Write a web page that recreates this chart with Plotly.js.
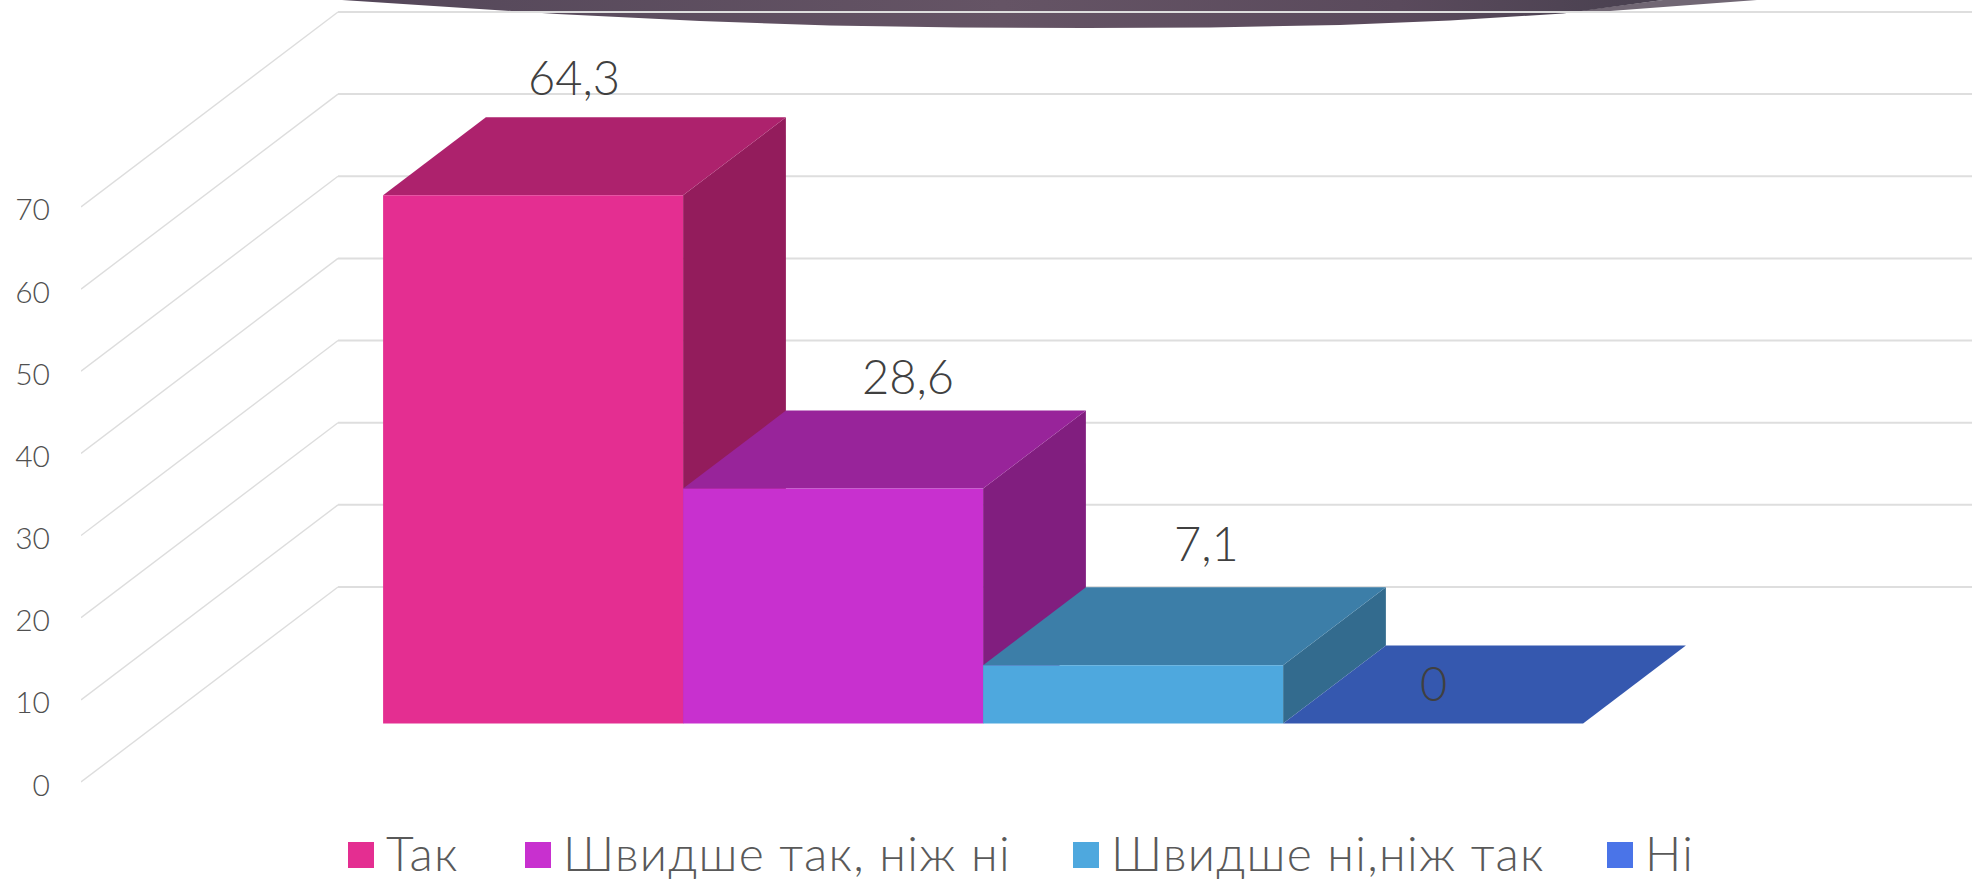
<!DOCTYPE html>
<html><head><meta charset="utf-8">
<script src="https://cdn.plot.ly/plotly-3.0.1.min.js"></script>
<style>html,body{margin:0;padding:0;background:#fff}#c{width:1972px;height:880px}</style>
</head><body><div id="c"></div>
<script>
// ---- data ----
const categories = ['Так', 'Швидше так, ніж ні', 'Швидше ні,ніж так', 'Ні'];
const values = [64.3, 28.6, 7.1, 0];
const valueLabels = ['64,3', '28,6', '7,1', '0'];
const yTicks = [0, 10, 20, 30, 40, 50, 60, 70];
// ---- styles ----
const frontColors = ['#E42E91', '#C830CF', '#4EA8DE', '#4A74E8'];
const topColors = ['#AD226D', '#98249A', '#3C7EA8', '#3558AF'];
const sideColors = ['#931C5C', '#811E7F', '#336B8E', '#2A4A96'];
const labelShiftX = [41, 75, 73, 0];
const labelLift = [118, 113, 122, 40.5];
const legendOrigins = [346, 523, 1071, 1605];
// ---- projection (oblique 3D) ----
const W = 1972, H = 880, L = 81;
const slotPx = 300, unitPx = 8.215, zeroPx = 782;
const depthX = 257 / slotPx, depthY = 195 / unitPx;
const gapWidth = 0.75, totalSlots = 5.5;
const barDepth0 = 0.30, barDepth1 = 0.70;
const xRange = [0, (W - L) / slotPx];
const yRange = [(zeroPx - H) / unitPx, zeroPx / unitPx];
const px = (x, y) => [(x - L) / slotPx, (zeroPx - y) / unitPx];
const proj = (u, v, d) => [u + d * depthX, v + d * depthY];
function poly(points, color, z) {
  const p = points.map(a => proj(a[0], a[1], a[2]));
  return {type: 'scatter', mode: 'lines', x: p.map(a => a[0]), y: p.map(a => a[1]),
    fill: 'toself', fillcolor: color, line: {width: 0, color: color},
    hoverinfo: 'skip', showlegend: false, zorder: z};
}
// wall / back grid
const diagX = [], diagY = [], backX = [], backY = [];
yTicks.forEach(t => {
  const a = proj(0, t, 0), b = proj(0, t, 1), c = proj(totalSlots, t, 1);
  diagX.push(a[0], b[0], null); diagY.push(a[1], b[1], null);
  backX.push(b[0], c[0], null); backY.push(b[1], c[1], null);
});
// decoration band at the very top (slide background shape)
const bandPxX = [342, 450, 557, 700, 830, 960, 1085, 1210, 1340, 1450, 1563, 1663, 1663, 342, 342];
const bandPxY = [0, 7, 14, 21, 25.5, 27.5, 28, 27.5, 25, 20.5, 13.5, 0, -6, -6, 0];
const band = bandPxX.map((x, i) => px(x, bandPxY[i]));
const wedgePxX = [1663, 1757, 1610, 1563, 1663];
const wedgePxY = [0, 0, 11, 13, 0];
const wedge = wedgePxX.map((x, i) => px(x, wedgePxY[i]));
const traces = [{
  type: 'scatter', mode: 'lines', x: wedge.map(a => a[0]), y: wedge.map(a => a[1]),
  fill: 'toself', fillcolor: '#716774', line: {width: 0},
  hoverinfo: 'skip', showlegend: false, zorder: 0
}, {
  type: 'scatter', mode: 'lines', x: band.map(a => a[0]), y: band.map(a => a[1]),
  fill: 'toself', line: {width: 0},
  fillgradient: {type: 'horizontal', colorscale: [[0, '#544759'], [0.5, '#655465'], [0.8, '#5A4A5C'], [1, '#48404F']]},
  hoverinfo: 'skip', showlegend: false, zorder: 0
}, {
  type: 'scatter', mode: 'lines', x: diagX, y: diagY, line: {color: '#DDDDDD', width: 1.4},
  hoverinfo: 'skip', showlegend: false, zorder: 1
}, {
  type: 'scatter', mode: 'lines', x: backX, y: backY, line: {color: '#DEDEDE', width: 2},
  hoverinfo: 'skip', showlegend: false, zorder: 1
}];
const annotations = [];
values.forEach((v, i) => {
  const u0 = gapWidth + i, u1 = u0 + 1;
  if (v > 0) {
    traces.push(poly([[u1, 0, barDepth0], [u1, 0, barDepth1], [u1, v, barDepth1], [u1, v, barDepth0], [u1, 0, barDepth0]], sideColors[i], 2));
  }
  traces.push(poly([[u0, v, barDepth0], [u0, v, barDepth1], [u1, v, barDepth1], [u1, v, barDepth0], [u0, v, barDepth0]], topColors[i], 3));
  const f = proj(u0 + 0.5, 0, barDepth0);
  traces.push({type: 'bar', x: [f[0]], y: [v], base: [f[1]], width: [1], name: categories[i],
    marker: {color: frontColors[i], line: {width: 0}}, hoverinfo: 'skip', zorder: 4});
  annotations.push({x: f[0], y: f[1] + v, xref: 'x', yref: 'y', text: valueLabels[i], showarrow: false,
    xanchor: 'center', yanchor: 'middle', xshift: labelShiftX[i], yshift: labelLift[i],
    font: {family: 'Lato, sans-serif', size: 47, color: '#404040', weight: 300}});
});
const legendLeft = 330;
const layout = {
  width: W, height: H, margin: {l: L, r: 0, t: 0, b: 0, pad: 0, autoexpand: false},
  paper_bgcolor: '#fff', plot_bgcolor: 'rgba(0,0,0,0)', barmode: 'overlay', showlegend: true,
  xaxis: {range: xRange, visible: false, fixedrange: true},
  yaxis: {range: yRange, tickvals: yTicks, ticktext: yTicks.map(String), showgrid: false, zeroline: false,
    showline: false, ticks: 'outside', ticklen: 24, tickcolor: 'rgba(0,0,0,0)', automargin: false, ticklabelshift: 3,
    tickfont: {family: 'Lato, sans-serif', size: 30, color: '#505050', weight: 300}},
  legend: {orientation: 'h', x: (legendLeft - L) / (W - L), xanchor: 'left', y: 0.012, yanchor: 'bottom',
    font: {family: 'Lato, sans-serif', size: 48, color: '#595959', weight: 300},
    itemclick: false, itemdoubleclick: false, bgcolor: 'rgba(0,0,0,0)'},
  annotations: annotations
};
Plotly.newPlot('c', traces, layout, {displayModeBar: false, staticPlot: true}).then(gd => {
  const box = gd.querySelector('.legend .scrollbox');
  if (box) box.removeAttribute('clip-path');
  const lg = gd.querySelector('.legend');
  if (lg) lg.removeAttribute('clip-path');
  const refY = 855;
  gd.querySelectorAll('.legend .traces').forEach((t, i) => {
    const sw = t.querySelector('.legendpoints path');
    sw.setAttribute('transform', 'translate(15,0) scale(2.17)');
    const txt = t.querySelector('text');
    txt.style.letterSpacing = '1.3px';
    const r = sw.getBoundingClientRect();
    const cy = r.top + r.height / 2;
    const m = /translate\(([-\d.]+)[ ,]*([-\d.]*)\)/.exec(t.getAttribute('transform'));
    const ty = parseFloat(m[2] || 0) + (refY - cy);
    t.setAttribute('transform', 'translate(' + (legendOrigins[i] - legendLeft) + ',' + ty + ')');
    txt.setAttribute('transform', 'translate(0,-3)');
  });
});
</script></body></html>
